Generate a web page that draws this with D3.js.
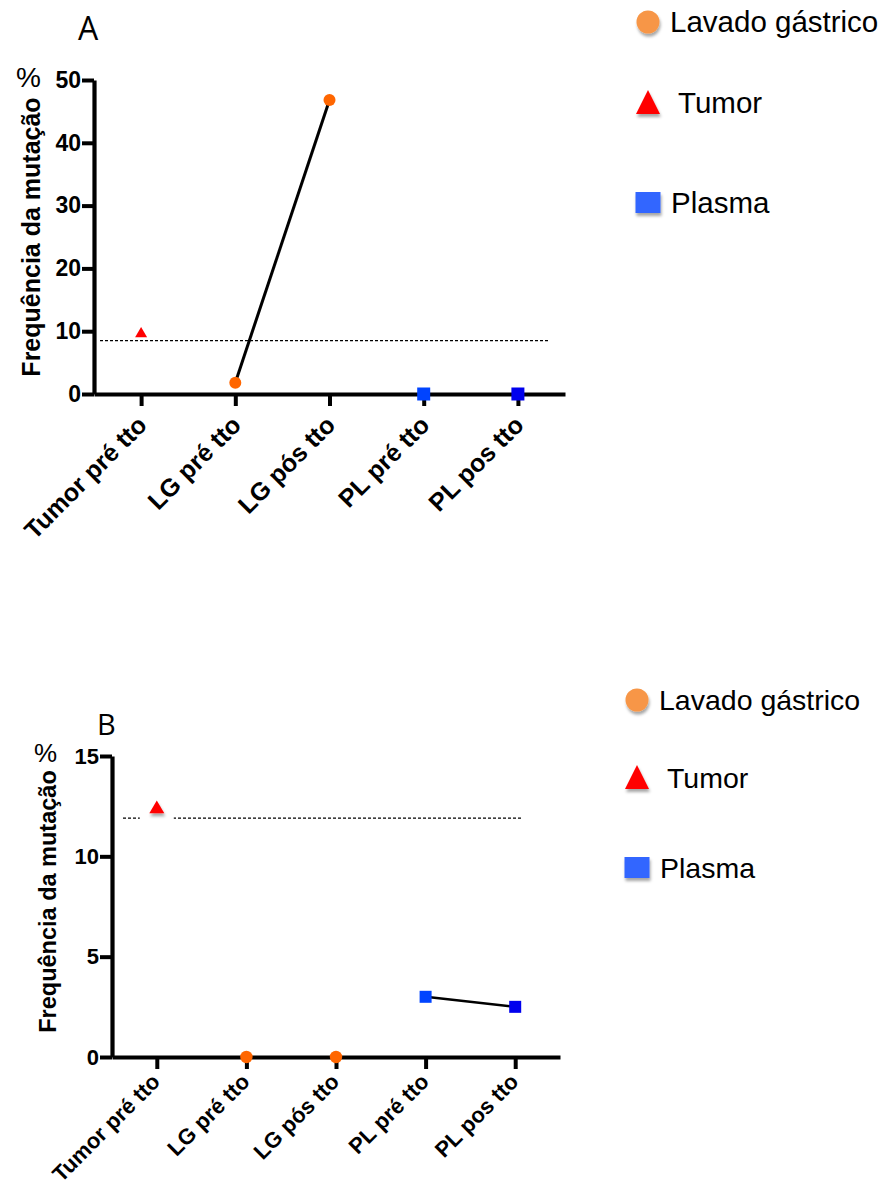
<!DOCTYPE html>
<html>
<head>
<meta charset="utf-8">
<script src="https://cdn.jsdelivr.net/npm/d3@7"></script>
<style>
  html, body { margin: 0; padding: 0; background: #fff; }
  svg { display: block; }
</style>
</head>
<body>
<svg id="chart" width="887" height="1187"></svg>
<script>
// Sample groups along the x axis
const categories = ["Tumor pré tto", "LG pré tto", "LG pós tto", "PL pré tto", "PL pos tto"];
// Sample type of each group (sets the marker)
const sampleTypes = ["Tumor", "Lavado", "Lavado", "Plasma", "Plasma"];

// Mutation frequency (%) per group
const valuesA = [9.7, 1.8, 46.8, 0, 0];
const valuesB = [12.4, 0, 0, 3.0, 2.5];

// Detection cut-off (%)
const cutoffA = 8.5;
const cutoffB = 11.9;

// Pairs of groups joined by a line (indices into categories)
const linksA = [[1, 2]];
const linksB = [[3, 4]];

// Y axis ticks
const yTicksA = [0, 10, 20, 30, 40, 50];
const yTicksB = [0, 5, 10, 15];

const legendLabels = ["Lavado gástrico", "Tumor", "Plasma"];
const legendTypes = ["Lavado", "Tumor", "Plasma"];
const panelLetters = ["A", "B"];
const yTitle = "Frequência da mutação";

// Marker colours
const lavadoFill = "#FF6600";
const tumorFill = "#FF0000";
const plasmaFills = ["#0044FF", "#0000EE"];
const legendFill = { Lavado: "#F79646", Tumor: "#FF0000", Plasma: "#3366FF" };

const svg = d3.select("#chart");
const font = "'Liberation Sans', Arial, Helvetica, sans-serif";

const defs = svg.append("defs");
const shadow = defs.append("filter").attr("id", "shade")
  .attr("x", "-50%").attr("y", "-50%").attr("width", "200%").attr("height", "220%");
shadow.append("feDropShadow")
  .attr("dx", 1).attr("dy", 3).attr("stdDeviation", 1.6)
  .attr("flood-color", "#000").attr("flood-opacity", 0.35);

const panels = [
  {
    letter: panelLetters[0], values: valuesA, cutoff: cutoffA, links: linksA, ticks: yTicksA,
    left: 94, right: 565, top: 80, bottom: 394, tickFont: 23, titleFont: 25, xFont: 25,
    titleX: 40, titleShift: 0, pct: { x: 16, y: 87, size: 28 }, letterPos: { x: 78, y: 40, size: 32 },
    cutStart: 6, cutEnd: 17, markerR: 6, square: 13, tri: 12, lineW: 3, gap: false,
    xLabelShift: [-10, 16],
    legend: { x: 648, ys: [22, 103, 203], size: 29.5, textX: [670, 678, 671] }
  },
  {
    letter: panelLetters[1], values: valuesB, cutoff: cutoffB, links: linksB, ticks: yTicksB,
    left: 112, right: 560, top: 756, bottom: 1057, tickFont: 22, titleFont: 23.5, xFont: 22,
    titleX: 56, titleShift: -5, pct: { x: 34, y: 762, size: 26 }, letterPos: { x: 97, y: 735, size: 29 },
    cutStart: 11, cutEnd: 39, markerR: 6.2, square: 12, tri: 15, lineW: 2.6, gap: true,
    xLabelShift: [-12, 10],
    legend: { x: 637, ys: [700, 778, 868], size: 28.5, textX: [659, 667, 660] }
  }
];

panels.forEach(p => {
  const g = svg.append("g");

  const x = d3.scalePoint().domain(categories).range([p.left, p.right]).padding(0.5);
  const y = d3.scaleLinear().domain([0, d3.max(p.ticks)]).range([p.bottom, p.top]);

  // Y axis
  const yAxis = g.append("g")
    .attr("transform", `translate(${p.left},0)`)
    .call(d3.axisLeft(y).tickValues(p.ticks).tickSize(12).tickSizeOuter(0).tickPadding(1));
  yAxis.select(".domain").attr("stroke-width", 4.2);
  yAxis.selectAll(".tick line").attr("stroke-width", 4);
  yAxis.selectAll(".tick text")
    .attr("font-family", font).attr("font-weight", "bold")
    .attr("font-size", p.tickFont).attr("fill", "#000");

  // X axis
  const xAxis = g.append("g")
    .attr("transform", `translate(0,${p.bottom})`)
    .call(d3.axisBottom(x).tickSize(12).tickSizeOuter(0));
  xAxis.select(".domain").attr("stroke-width", 4.2);
  xAxis.selectAll(".tick line").attr("stroke-width", 4);
  xAxis.selectAll(".tick text")
    .attr("font-family", font).attr("font-weight", "bold")
    .attr("font-size", p.xFont).attr("fill", "#000")
    .attr("text-anchor", "end")
    .attr("dy", "0.35em")
    .attr("transform", `translate(${p.xLabelShift[0]},${p.xLabelShift[1]}) rotate(-45)`);

  // Axis title and units
  g.append("text")
    .attr("transform", `translate(${p.titleX},${(p.top + p.bottom) / 2 + p.titleShift}) rotate(-90)`)
    .attr("text-anchor", "middle")
    .attr("font-family", font).attr("font-weight", "bold")
    .attr("font-size", p.titleFont)
    .text(yTitle);
  g.append("text")
    .attr("x", p.pct.x).attr("y", p.pct.y)
    .attr("font-family", font).attr("font-size", p.pct.size)
    .text("%");
  g.append("text")
    .attr("x", p.letterPos.x).attr("y", p.letterPos.y)
    .attr("font-family", "'Open Sans', " + font).attr("font-size", p.letterPos.size)
    .text(p.letter);

  // Cut-off line
  g.append("line")
    .attr("x1", p.left + p.cutStart).attr("x2", p.right - p.cutEnd)
    .attr("y1", y(p.cutoff)).attr("y2", y(p.cutoff))
    .attr("stroke", "#000").attr("stroke-width", 1.2)
    .attr("stroke-dasharray", "3,2");

  // Lines joining paired samples
  p.links.forEach(([a, b]) => {
    g.append("line")
      .attr("x1", x(categories[a])).attr("y1", y(p.values[a]))
      .attr("x2", x(categories[b])).attr("y2", y(p.values[b]))
      .attr("stroke", "#000").attr("stroke-width", p.lineW);
  });

  // Markers
  let plasmaIndex = 0;
  categories.forEach((c, i) => {
    const type = sampleTypes[i];
    const cx = x(c), cy = y(p.values[i]);
    if (type === "Tumor") {
      if (p.gap) {
        g.append("rect")
          .attr("x", cx - 17).attr("y", y(p.cutoff) - 3)
          .attr("width", 34).attr("height", 6).attr("fill", "#fff");
      }
      const w = p.tri, h = p.tri * 0.85;
      g.append("path")
        .attr("transform", `translate(${cx},${cy})`)
        .attr("d", `M0,${-h * 0.6}L${w / 2},${h * 0.4}L${-w / 2},${h * 0.4}Z`)
        .attr("fill", tumorFill)
        .attr("filter", p.gap ? "url(#shade)" : null);
    } else if (type === "Lavado") {
      g.append("circle")
        .attr("cx", cx).attr("cy", cy).attr("r", p.markerR)
        .attr("fill", lavadoFill);
    } else {
      const s = p.square;
      g.append("rect")
        .attr("x", cx - s / 2).attr("y", cy - s / 2)
        .attr("width", s).attr("height", s)
        .attr("fill", plasmaFills[plasmaIndex++]);
    }
  });

  // Legend
  const L = p.legend;
  legendTypes.forEach((t, i) => {
    const ly = L.ys[i];
    if (t === "Lavado") {
      g.append("circle").attr("cx", L.x).attr("cy", ly).attr("r", 11.5)
        .attr("fill", legendFill.Lavado).attr("filter", "url(#shade)");
    } else if (t === "Tumor") {
      g.append("path")
        .attr("transform", `translate(${L.x},${ly})`)
        .attr("d", "M0,-13L12,11L-12,11Z")
        .attr("fill", legendFill.Tumor).attr("filter", "url(#shade)");
    } else {
      g.append("rect").attr("x", L.x - 12.5).attr("y", ly - 11)
        .attr("width", 25).attr("height", 21)
        .attr("fill", legendFill.Plasma).attr("filter", "url(#shade)");
    }
    g.append("text")
      .attr("x", L.textX[i]).attr("y", ly + 10)
      .attr("font-family", font).attr("font-size", L.size)
      .attr("fill", "#000")
      .text(legendLabels[i]);
  });
});
</script>
</body>
</html>
